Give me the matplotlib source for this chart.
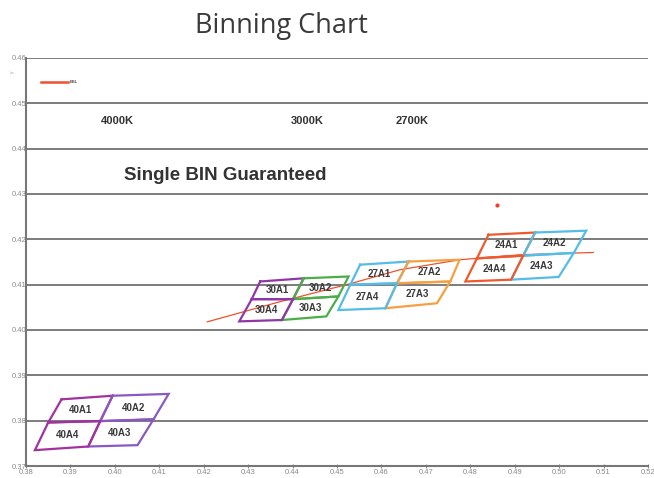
import matplotlib.pyplot as plt
import numpy as np

# bin groups: 3x3 grid of corner points (rows top->bottom, cols left->right), (x, y)
bin_groups = ["40A", "30A", "27A", "24A"]
grid_x = {
    "40A": [[0.3880, 0.3995, 0.4121], [0.3850, 0.3967, 0.4087], [0.3820, 0.3940, 0.4051]],
    "30A": [[0.4327, 0.4425, 0.4526], [0.4308, 0.4401, 0.4503], [0.4280, 0.4376, 0.4476]],
    "27A": [[0.4552, 0.4661, 0.4776], [0.4530, 0.4635, 0.4755], [0.4503, 0.4609, 0.4725]],
    "24A": [[0.4841, 0.4946, 0.5061], [0.4815, 0.4919, 0.5033], [0.4789, 0.4892, 0.4999]],
}
grid_y = {
    "40A": [[0.3847, 0.3855, 0.3859], [0.3796, 0.3799, 0.3803], [0.3735, 0.3743, 0.3746]],
    "30A": [[0.4107, 0.4114, 0.4118], [0.4068, 0.4068, 0.4074], [0.4019, 0.4022, 0.4030]],
    "27A": [[0.4144, 0.4151, 0.4155], [0.4100, 0.4103, 0.4107], [0.4044, 0.4048, 0.4059]],
    "24A": [[0.4210, 0.4215, 0.4219], [0.4158, 0.4164, 0.4170], [0.4107, 0.4111, 0.4117]],
}
# colours per group: (A1/A4 colour, A2/A3 colour)
group_colors = {
    "40A": ("#a1329e", "#8a58c4"),
    "30A": ("#9037a8", "#4cae4a"),
    "27A": ("#55bce8", "#f5a043"),
    "24A": ("#ee5a2e", "#55bce8"),
}

# black body locus
bbl_x = [0.4208, 0.4370, 0.4533, 0.4642, 0.4777, 0.4913, 0.5077]
bbl_y = [0.4018, 0.4062, 0.4103, 0.4133, 0.4155, 0.4166, 0.4171]
point_x, point_y = 0.4861, 0.4276

cct_labels = ["4000K", "3000K", "2700K"]
cct_x = [0.4005, 0.4433, 0.4669]
cct_y = 0.4462

x_ticks = np.arange(0.38, 0.5201, 0.01)
y_ticks = np.arange(0.37, 0.4601, 0.01)

plt.rcParams['font.family'] = ['Liberation Sans', 'DejaVu Sans']

fig = plt.figure(figsize=(6.54, 4.78), dpi=100)
ax = fig.add_axes([0.0398, 0.0251, 0.951, 0.8536])

# horizontal grid
for yv in y_ticks[1:]:
    ax.axhline(yv, color="#666666", lw=1.2, zorder=1)

cells = {
    "A1": [(0, 0), (0, 1), (1, 1), (1, 0)],
    "A2": [(0, 1), (0, 2), (1, 2), (1, 1)],
    "A3": [(1, 1), (1, 2), (2, 2), (2, 1)],
    "A4": [(1, 0), (1, 1), (2, 1), (2, 0)],
}
for g in bin_groups:
    gx = np.array(grid_x[g])
    gy = np.array(grid_y[g])
    c_left, c_right = group_colors[g]
    for name, idx in cells.items():
        xs = [gx[r, c] for r, c in idx] + [gx[idx[0]]]
        ys = [gy[r, c] for r, c in idx] + [gy[idx[0]]]
        col = c_left if name in ("A1", "A4") else c_right
        ax.plot(xs, ys, color=col, lw=1.6, zorder=3, solid_joinstyle='miter')
        ax.text(np.mean(xs[:4]), np.mean(ys[:4]), g[:2] + name, ha='center', va='center',
                fontsize=7, fontweight='bold', color="#3a3a3a", zorder=4)

ax.plot(bbl_x, bbl_y, color="#f0502d", lw=0.9, zorder=2, label="BBL")
ax.plot(point_x, point_y, 'o', color="#f0402a", ms=2, zorder=4)

for lab, xv in zip(cct_labels, cct_x):
    ax.text(xv, cct_y, lab, ha='center', va='center', fontsize=8, fontweight='bold', color="#333333")
ax.text(0.4248, 0.4340, "Single BIN Guaranteed", ha='center', va='center',
        fontsize=13.5, fontweight='bold', color="#333333")

leg = ax.legend(loc='upper left', bbox_to_anchor=(0.018, 0.955), frameon=False, fontsize=3,
                handlelength=6.5, handletextpad=0.4, borderaxespad=0.5)
for line in leg.get_lines():
    line.set_linewidth(1.8)

ax.set_xlim(0.38, 0.52)
ax.set_ylim(0.37, 0.46)
ax.set_xticks(x_ticks)
ax.set_yticks(y_ticks)
ax.set_xticklabels([f"{v:.2f}" for v in x_ticks])
ax.set_yticklabels([f"{v:.2f}" for v in y_ticks])
ax.tick_params(axis='both', labelsize=5.5, colors="#8a8a8a", length=3, direction='inout', pad=1)
ax.tick_params(axis='y', length=0, pad=0)
for s in ("top", "right"):
    ax.spines[s].set_visible(False)
for s in ("left", "bottom"):
    ax.spines[s].set_color("#777777")
    ax.spines[s].set_linewidth(1.5)

fig.text(0.015, 0.85, "y", fontsize=3.5, color="#999999", rotation=90)
fig.text(0.43, 0.945, "Binning Chart", ha='center', va='center', fontsize=19.5,
         color="#3a3a3a", family=['Open Sans', 'DejaVu Sans'])

fig.savefig("out.png", dpi=100)
